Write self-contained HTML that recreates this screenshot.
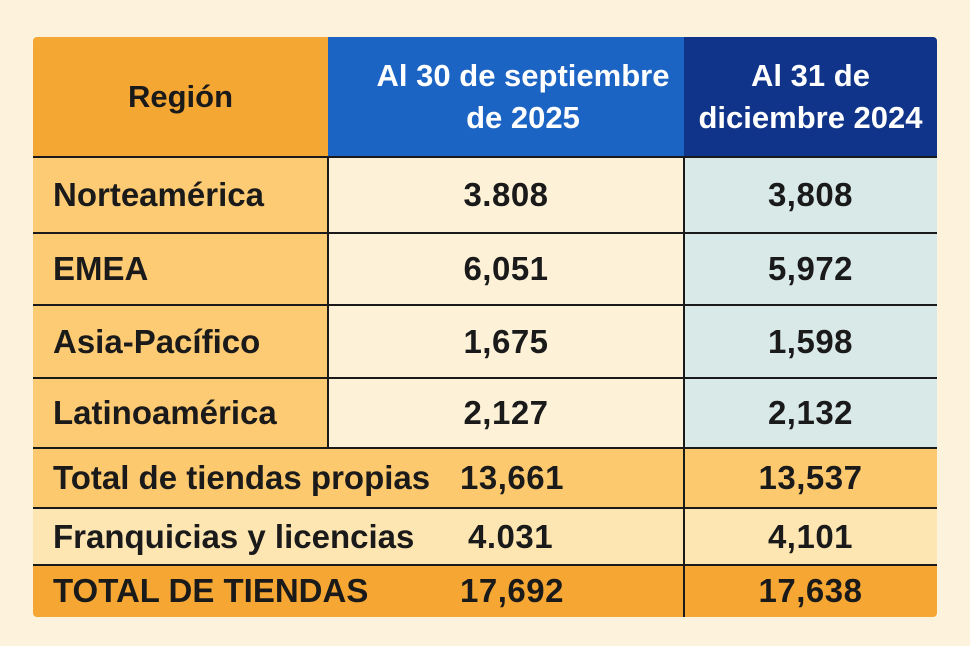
<!DOCTYPE html>
<html><head><meta charset="utf-8"><style>
body{margin:0;width:970px;height:646px;background:#fdf3dc;font-family:"Liberation Sans","DejaVu Sans",sans-serif;position:relative;overflow:hidden}
.c{position:absolute;box-sizing:border-box;display:flex;align-items:center;font-weight:bold;color:#1a1a1a;font-size:33px;white-space:nowrap}
.n{font-size:33px;letter-spacing:0.5px}
.l{padding-left:20px}
.m{justify-content:center;text-align:center}
.h{position:absolute;height:2px;background:#1a1a1a}
.v{position:absolute;width:2px;background:#1a1a1a}
</style></head><body>
<div class="c m" style="left:33px;top:37px;width:295px;height:120px;background:#f5a733;border-radius:4px 0 0 0;font-size:31px">Región</div>
<div class="c m" style="left:328px;top:37px;width:356px;height:120px;background:#1c64c4;color:#fff;line-height:42px;font-size:31px;padding-left:34px">Al 30 de septiembre<br>de 2025</div>
<div class="c m" style="left:684px;top:37px;width:253px;height:120px;background:#10348a;color:#fff;line-height:42px;border-radius:0 4px 0 0;font-size:31px">Al 31 de<br>diciembre 2024</div>

<div class="c l" style="left:33px;top:157px;width:295px;height:291px;background:#fdcb74"></div>
<div class="c m" style="left:328px;top:157px;width:356px;height:291px;background:#fdf2d8"></div>
<div class="c m" style="left:684px;top:157px;width:253px;height:291px;background:#d8e9e8"></div>

<div class="c l" style="left:33px;top:157px;width:295px;height:76px">Norteamérica</div>
<div class="c m n" style="left:328px;top:157px;width:356px;height:76px">3.808</div>
<div class="c m n" style="left:684px;top:157px;width:253px;height:76px">3,808</div>
<div class="c l" style="left:33px;top:233px;width:295px;height:72px">EMEA</div>
<div class="c m n" style="left:328px;top:233px;width:356px;height:72px">6,051</div>
<div class="c m n" style="left:684px;top:233px;width:253px;height:72px">5,972</div>
<div class="c l" style="left:33px;top:305px;width:295px;height:73px">Asia-Pacífico</div>
<div class="c m n" style="left:328px;top:305px;width:356px;height:73px">1,675</div>
<div class="c m n" style="left:684px;top:305px;width:253px;height:73px">1,598</div>
<div class="c l" style="left:33px;top:378px;width:295px;height:70px">Latinoamérica</div>
<div class="c m n" style="left:328px;top:378px;width:356px;height:70px">2,127</div>
<div class="c m n" style="left:684px;top:378px;width:253px;height:70px">2,132</div>

<div class="c l" style="left:33px;top:448px;width:904px;height:60px;background:#fdc96e">Total de tiendas propias</div>
<div class="c n" style="left:460px;top:448px;width:120px;height:60px">13,661</div>
<div class="c m n" style="left:684px;top:448px;width:253px;height:60px">13,537</div>
<div class="c l" style="left:33px;top:508px;width:904px;height:57px;background:#fee6b2">Franquicias y licencias</div>
<div class="c n" style="left:468px;top:508px;width:120px;height:57px">4.031</div>
<div class="c m n" style="left:684px;top:508px;width:253px;height:57px">4,101</div>
<div class="c l" style="left:33px;top:565px;width:904px;height:52px;background:#f6a733;border-radius:0 0 4px 4px">TOTAL DE TIENDAS</div>
<div class="c n" style="left:460px;top:565px;width:120px;height:52px">17,692</div>
<div class="c m n" style="left:684px;top:565px;width:253px;height:52px">17,638</div>

<div class="h" style="left:33px;top:156px;width:904px"></div>
<div class="h" style="left:33px;top:232px;width:904px"></div>
<div class="h" style="left:33px;top:304px;width:904px"></div>
<div class="h" style="left:33px;top:377px;width:904px"></div>
<div class="h" style="left:33px;top:447px;width:904px"></div>
<div class="h" style="left:33px;top:507px;width:904px"></div>
<div class="h" style="left:33px;top:564px;width:904px"></div>
<div class="v" style="left:327px;top:156px;height:292px"></div>
<div class="v" style="left:683px;top:156px;height:461px"></div>
</body></html>
